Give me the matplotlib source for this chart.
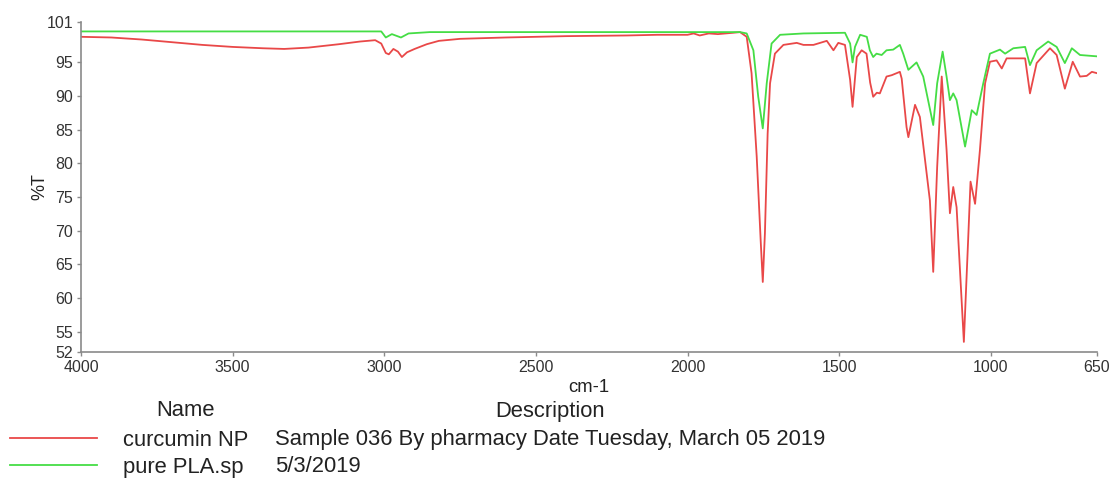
import matplotlib
matplotlib.use("Agg")
import matplotlib.pyplot as plt
from matplotlib.lines import Line2D

plt.rcParams['font.family'] = ['Liberation Sans', 'DejaVu Sans']

# ---- data (wavenumber cm-1, %T) ----
red_wn = [4000, 3900, 3800, 3700, 3600, 3500, 3400, 3330, 3250, 3150, 3080, 3030,
          3010, 2995, 2985, 2970, 2955, 2942, 2925, 2900, 2860, 2820, 2750, 2600,
          2400, 2200, 2100, 2000, 1980, 1960, 1930, 1900, 1850, 1827, 1805, 1789,
          1772, 1759, 1752, 1745, 1736, 1728, 1712, 1684, 1640, 1618, 1585, 1541,
          1519, 1503, 1481, 1464, 1456, 1442, 1426, 1410, 1398, 1388, 1376, 1366,
          1344, 1327, 1300, 1294, 1278, 1272, 1250, 1234, 1201, 1190, 1177, 1162,
          1146, 1135, 1124, 1113, 1089, 1074, 1067, 1052, 1036, 1019, 1003, 981,
          964, 948, 887, 871, 849, 805, 783, 756, 730, 706, 684, 667, 650]
red_t = [98.8, 98.7, 98.4, 98.0, 97.6, 97.3, 97.1, 97.0, 97.2, 97.7, 98.1, 98.3,
         97.8, 96.4, 96.2, 97.0, 96.6, 95.8, 96.5, 97.0, 97.7, 98.2, 98.5, 98.7,
         98.9, 99.0, 99.1, 99.1, 99.3, 99.0, 99.3, 99.2, 99.4, 99.5, 98.8, 93.4,
         81.0, 68.6, 62.4, 69.6, 84.4, 91.9, 96.3, 97.6, 97.9, 97.6, 97.6, 98.2,
         96.8, 97.9, 97.6, 92.4, 88.4, 95.8, 96.8, 96.3, 92.0, 89.9, 90.5, 90.4,
         92.9, 93.1, 93.6, 92.6, 85.4, 83.9, 88.7, 86.9, 74.5, 63.9, 79.5, 92.9,
         82.0, 72.6, 76.5, 73.5, 53.5, 69.6, 77.3, 74.0, 82.0, 91.9, 95.1, 95.3,
         94.1, 95.6, 95.6, 90.4, 94.9, 97.1, 96.1, 91.1, 95.1, 92.9, 93.0, 93.6, 93.4]

green_wn = [4000, 3500, 3010, 2995, 2975, 2945, 2920, 2850, 2500, 2000, 1900,
            1827, 1805, 1783, 1767, 1752, 1739, 1723, 1695, 1618, 1481, 1464,
            1456, 1448, 1431, 1409, 1399, 1388, 1377, 1360, 1344, 1322, 1300,
            1289, 1272, 1245, 1223, 1190, 1177, 1159, 1146, 1135, 1124, 1113,
            1085, 1063, 1047, 1025, 1003, 970, 953, 926, 887, 871, 849, 811,
            783, 756, 733, 706, 650]
green_t = [99.6, 99.6, 99.6, 98.7, 99.2, 98.7, 99.3, 99.5, 99.5, 99.5, 99.5,
           99.5, 99.3, 96.8, 89.9, 85.2, 91.9, 97.8, 99.1, 99.3, 99.4, 97.8,
           95.0, 97.3, 99.1, 98.8, 96.8, 95.8, 96.3, 96.1, 96.8, 96.9, 97.6,
           96.3, 93.9, 95.0, 92.9, 85.7, 91.9, 96.6, 92.9, 89.4, 90.4, 89.4,
           82.5, 87.9, 87.2, 91.9, 96.3, 96.9, 96.3, 97.1, 97.3, 94.6, 96.8, 98.1,
           97.3, 94.9, 97.1, 96.1, 95.9]

names = ["curcumin NP", "pure PLA.sp"]
descriptions = ["Sample 036 By pharmacy Date Tuesday, March 05 2019", "5/3/2019"]
colors = ["#e94848", "#45dd45"]

yticks = [101, 95, 90, 85, 80, 75, 70, 65, 60, 55, 52]
xticks = [4000, 3500, 3000, 2500, 2000, 1500, 1000, 650]

W, H = 1110, 482
fig = plt.figure(figsize=(W / 100, H / 100), dpi=100)
ax = fig.add_axes([81 / W, 130 / H, 1016 / W, 330 / H])

ax.plot(red_wn, red_t, color=colors[0], lw=1.3)
ax.plot(green_wn, green_t, color=colors[1], lw=1.3)

ax.set_xlim(4000, 650)
ax.set_ylim(52, 101)
ax.set_xticks(xticks)
ax.set_xticklabels([str(v) for v in xticks])
ax.set_yticks(yticks)
ax.set_yticklabels([str(v) for v in yticks])

for s in ["top", "right"]:
    ax.spines[s].set_visible(False)
for s in ["left", "bottom"]:
    ax.spines[s].set_color("#8a8a8a")
    ax.spines[s].set_linewidth(1.2)
ax.tick_params(axis="both", direction="out", length=3, width=1, color="#8a8a8a",
               labelsize=11.5, labelcolor="#333333", pad=2.5)

ax.set_xlabel("cm-1", fontsize=13.3, color="#222222")
ax.xaxis.set_label_coords(0.5, -(388 - 352) / 330, transform=ax.transAxes)
ax.set_ylabel("%T", fontsize=13, color="#222222")
ax.yaxis.set_label_coords(-(81 - 40) / 1016, 0.5, transform=ax.transAxes)
ax.xaxis.label.set_va("center")
ax.yaxis.label.set_va("center")

# legend table below the plot
fs = 15.8
base_off = 7.5  # px from visual centre to baseline
fig.text(185 / W, 1 - (409 + base_off) / H, "Name", fontsize=fs, ha="center",
         va="baseline", color="#222222")
fig.text(550 / W, 1 - (409 + base_off) / H, "Description", fontsize=fs, ha="center",
         va="baseline", color="#222222")
rows_y = [438, 465]
for i in range(2):
    yy = 1 - rows_y[i] / H
    yb = 1 - (rows_y[i] + base_off) / H
    fig.add_artist(Line2D([10 / W, 97 / W], [yy, yy], color=colors[i], lw=1.3,
                          transform=fig.transFigure))
    fig.text(123 / W, yb, names[i], fontsize=fs, ha="left", va="baseline", color="#222222")
    fig.text(275 / W, yb, descriptions[i], fontsize=fs, ha="left", va="baseline", color="#222222")

fig.savefig("out.png", dpi=100)
